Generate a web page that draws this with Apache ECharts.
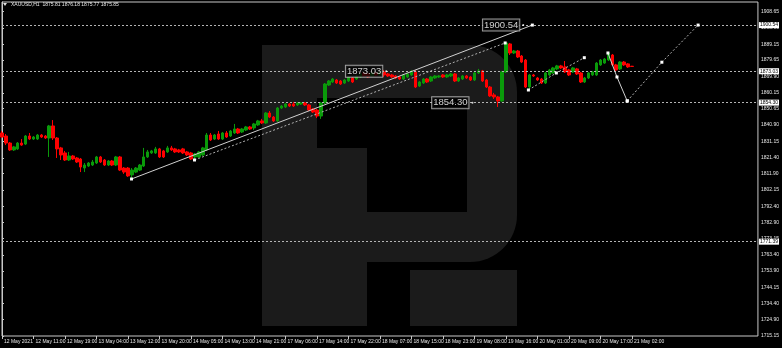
<!DOCTYPE html>
<html><head><meta charset="utf-8">
<script src="https://cdn.jsdelivr.net/npm/echarts@6/dist/echarts.min.js"></script>
<style>html,body{margin:0;padding:0;background:#000}#c{width:782px;height:348px}</style>
</head><body><div id="c"></div>
<script>
// ---- data (XAUUSD H1) ----
const timeLabels = ['12 May 2021','12 May 11:00','12 May 19:00','13 May 04:00','13 May 12:00','13 May 20:00','14 May 05:00','14 May 13:00','14 May 21:00','17 May 06:00','17 May 14:00','17 May 22:00','18 May 07:00','18 May 15:00','18 May 23:00','19 May 08:00','19 May 16:00','20 May 01:00','20 May 09:00','20 May 17:00','21 May 02:00'];
const labelEvery = 8;
const priceTicks = [1908.65,1898.90,1889.15,1879.65,1869.90,1860.15,1850.65,1840.90,1831.15,1821.40,1811.90,1802.15,1792.40,1782.90,1773.15,1763.40,1753.90,1744.15,1734.40,1724.90,1715.15];
const opens = [1836.2,1834.4,1830.2,1826.1,1826.7,1830.2,1829.6,1834.4,1832.6,1832.6,
1835.0,1834.4,1833.2,1840.4,1833.2,1827.3,1824.3,1820.1,1822.5,1821.3,
1820.7,1815.3,1816.5,1817.1,1818.3,1821.9,1820.1,1817.1,1819.5,1817.1,
1821.9,1815.3,1815.3,1811.2,1812.9,1814.1,1816.5,1821.9,1824.3,1824.3,
1826.7,1825.5,1824.9,1827.3,1826.7,1826.1,1826.7,1824.9,1824.3,1821.9,
1821.9,1823.1,1826.1,1835.0,1832.6,1835.6,1832.6,1836.2,1834.4,1836.2,
1838.6,1836.8,1838.0,1839.8,1839.2,1841.0,1843.4,1842.2,1848.1,1845.7,
1843.4,1851.1,1851.7,1853.5,1853.5,1852.9,1853.5,1854.1,1852.9,1850.5,
1849.9,1846.3,1854.1,1864.8,1866.6,1867.8,1867.2,1866.0,1867.2,1869.0,
1868.4,1869.6,1872.0,1871.4,1870.2,1872.0,1870.8,1872.6,1871.4,1870.8,
1870.2,1869.6,1868.4,1869.6,1870.8,1872.6,1864.2,1866.0,1868.4,1867.2,
1869.0,1869.6,1870.8,1869.6,1870.2,1871.4,1867.2,1868.4,1870.2,1869.6,
1867.8,1872.0,1873.2,1867.8,1863.6,1858.9,1857.7,1855.3,1872.6,1889.3,
1883.9,1885.1,1882.1,1879.7,1863.6,1870.8,1869.0,1868.4,1866.0,1870.8,
1872.0,1874.4,1876.2,1875.6,1873.8,1872.6,1874.4,1872.0,1866.6,1869.0,
1870.8,1870.8,1876.8,1877.9,1879.7,1882.7,1876.8,1874.4,1878.5,1877.4,
1876.0];
const closes = [1833.8,1830.2,1826.1,1827.9,1830.2,1829.0,1834.4,1832.6,1833.8,1835.0,
1833.8,1833.2,1840.4,1833.2,1826.7,1823.1,1820.1,1822.5,1820.7,1818.9,
1815.9,1817.1,1818.3,1818.9,1821.9,1818.9,1817.1,1819.5,1817.1,1821.9,
1814.1,1812.9,1810.6,1814.1,1815.3,1817.1,1821.9,1824.9,1825.5,1826.7,
1821.9,1821.9,1827.3,1826.1,1824.9,1824.9,1824.3,1823.1,1820.7,1823.7,
1824.9,1827.3,1835.0,1832.0,1835.0,1832.6,1836.2,1833.8,1837.4,1838.6,
1836.2,1838.6,1839.8,1838.6,1841.6,1843.4,1842.2,1848.1,1845.7,1843.4,
1851.1,1852.3,1853.5,1852.3,1852.3,1854.1,1854.1,1852.9,1849.9,1848.7,
1846.3,1854.1,1865.4,1867.2,1868.4,1866.0,1865.4,1867.8,1869.6,1866.6,
1870.2,1871.4,1870.2,1869.6,1872.0,1870.8,1873.2,1870.8,1870.2,1869.6,
1869.0,1868.4,1870.8,1871.4,1872.6,1863.6,1866.6,1868.4,1866.6,1869.6,
1870.2,1870.2,1869.6,1870.8,1871.4,1867.2,1869.0,1870.2,1869.0,1867.8,
1872.0,1873.2,1867.2,1863.6,1858.3,1857.7,1855.3,1872.6,1889.9,1883.9,
1885.1,1881.5,1878.5,1863.6,1870.8,1870.2,1867.8,1866.0,1872.0,1873.8,
1875.0,1876.2,1875.0,1872.6,1870.8,1875.0,1871.4,1866.6,1869.0,1872.0,
1872.6,1877.9,1879.7,1880.3,1883.9,1876.8,1873.8,1878.5,1876.8,1875.6,
1875.85];
const lows = [1833.2,1829.0,1825.5,1825.5,1826.1,1828.5,1829.0,1832.0,1832.0,1832.0,
1833.2,1832.6,1821.9,1832.0,1821.3,1820.1,1819.5,1819.5,1820.1,1818.3,
1812.9,1812.9,1815.9,1816.5,1817.7,1818.3,1816.5,1816.5,1816.5,1816.5,
1813.5,1811.8,1810.0,1808.8,1812.3,1813.5,1815.9,1821.3,1823.7,1823.7,
1821.3,1821.3,1824.3,1825.5,1824.3,1824.3,1823.7,1822.5,1820.1,1820.1,
1821.3,1822.5,1825.5,1831.4,1832.0,1832.0,1832.0,1833.2,1833.8,1835.6,
1835.6,1836.2,1837.4,1838.0,1838.0,1840.4,1841.6,1841.6,1845.1,1842.8,
1842.8,1850.5,1851.1,1851.7,1851.7,1852.3,1852.9,1852.3,1849.3,1848.1,
1845.1,1844.6,1853.5,1864.2,1866.0,1865.4,1864.8,1865.4,1866.6,1866.0,
1867.8,1869.0,1869.6,1869.0,1869.6,1870.2,1870.2,1869.6,1869.6,1869.0,
1868.4,1867.8,1867.8,1869.0,1870.2,1863.0,1863.6,1865.4,1866.0,1866.6,
1868.4,1869.0,1869.0,1869.0,1869.6,1866.6,1866.6,1867.8,1868.4,1867.2,
1867.2,1871.4,1866.6,1863.0,1857.7,1856.5,1851.7,1854.7,1872.0,1882.7,
1883.3,1880.9,1877.9,1863.0,1862.4,1869.6,1867.2,1865.4,1865.4,1870.2,
1871.4,1873.8,1874.4,1872.0,1870.2,1872.0,1870.8,1866.0,1866.0,1868.4,
1870.2,1870.2,1876.2,1877.4,1879.1,1876.2,1873.2,1873.8,1876.2,1875.0,
1875.77];
const highs = [1837.4,1835.6,1830.8,1828.5,1830.8,1832.6,1835.0,1836.2,1834.4,1835.6,
1835.6,1835.0,1841.0,1843.9,1833.8,1827.9,1825.5,1824.9,1823.1,1821.9,
1821.3,1818.3,1818.9,1820.1,1822.5,1822.5,1820.7,1820.1,1820.1,1822.5,
1822.5,1815.9,1815.9,1815.3,1815.9,1817.7,1827.3,1826.1,1826.1,1827.9,
1827.3,1826.1,1828.5,1828.5,1827.3,1826.7,1827.3,1825.5,1824.9,1824.3,
1825.5,1827.9,1836.2,1836.2,1835.6,1837.4,1836.8,1837.4,1838.0,1841.6,
1839.2,1839.2,1840.4,1840.4,1842.2,1844.0,1844.6,1848.7,1849.3,1846.3,
1851.7,1852.9,1854.1,1854.1,1854.7,1854.7,1854.7,1854.7,1853.5,1851.1,
1850.5,1854.7,1866.0,1867.8,1869.0,1868.4,1867.8,1868.4,1870.2,1869.6,
1870.8,1872.0,1872.6,1872.0,1872.6,1872.6,1873.8,1873.8,1872.0,1871.4,
1870.8,1870.2,1871.4,1872.0,1873.8,1873.8,1867.2,1869.0,1869.0,1870.2,
1870.8,1870.8,1871.4,1871.4,1872.0,1872.0,1869.6,1870.8,1870.8,1870.2,
1872.6,1874.4,1873.8,1868.4,1864.2,1860.1,1858.3,1873.2,1890.5,1889.9,
1885.7,1885.7,1882.7,1880.3,1871.4,1871.4,1869.6,1869.0,1872.6,1874.4,
1875.6,1876.8,1876.8,1879.1,1874.4,1875.6,1875.0,1872.6,1869.6,1872.6,
1873.2,1878.5,1880.3,1880.9,1884.5,1883.3,1877.4,1879.1,1879.1,1877.9,
1876.18];
const titleText = 'XAUUSD,H1  1875.81 1876.18 1875.77 1875.85';
const hLines = [1900.54, 1873.03, 1854.30, 1771.39];
const lastPrice = 1875.85;
// price notes: [bar position, price]
const priceNotes = [[132.4,1900.54],[97.6,1873.03],[119.5,1854.30]];
// trend lines: [bar position, price]
const channelSolid = [[32.9,1808.77],[134.7,1900.54]];
const channelDotted = [[48.9,1820.10],[127.8,1889.87]];
const riseDotted = [[133.7,1861.84],[140.8,1871.98],[147.9,1881.10]];
const dropSolid = [[153.9,1883.90],[156.2,1869.60],[158.8,1855.30]];
const projDotted = [[158.8,1855.30],[167.6,1878.40],[176.8,1900.54]];

const nCats = 193;
const yMin = 1715.15, yMax = 1914.3;
const cats = Array.from({length: nCats}, (_, i) => String(i));
const candles = opens.map((o, i) => [o, closes[i], lows[i], highs[i]]);
const isLabel = i => i % labelEvery === 0 && i / labelEvery < timeLabels.length;

const axisCol = '#c8c8c8', txtCol = '#e6e6e6', font = 'Liberation Sans';
const wm = '#1b1b1b';
const lineSeries = (data, type, col) => ({
  type: 'line', xAxisIndex: 1, yAxisIndex: 0, data, z: 5, silent: true,
  lineStyle: {color: col, width: 1, type},
  symbol: 'rect', symbolSize: 3, itemStyle: {color: '#ffffff'}
});

const chart = echarts.init(document.getElementById('c'), null, {renderer: 'canvas'});
chart.setOption({
  backgroundColor: '#000',
  animation: false,
  grid: {left: 2, right: 23, top: 2, bottom: 12, show: true, borderColor: axisCol, borderWidth: 1},
  xAxis: [{
    type: 'category', data: cats, boundaryGap: false,
    axisLine: {show: false},
    axisTick: {show: true, interval: i => isLabel(i), length: 3, lineStyle: {color: axisCol}},
    axisLabel: {interval: i => isLabel(i), formatter: (v, i) => timeLabels[i / labelEvery],
      align: 'left', fontSize: 5, color: txtCol, margin: 3, padding: [0, 0, 0, 2], fontFamily: font},
    splitLine: {show: false}
  }, {type: 'value', min: 0, max: nCats - 1, show: false}],
  yAxis: {
    type: 'value', position: 'right', min: yMin, max: yMax,
    axisLine: {show: true, lineStyle: {color: axisCol}},
    axisTick: {show: true, customValues: priceTicks, length: 2, lineStyle: {color: axisCol}},
    axisLabel: {customValues: priceTicks, formatter: v => v.toFixed(2), fontSize: 5, color: txtCol, margin: 3, fontFamily: font},
    splitLine: {show: false}
  },
  graphic: [
    {type: 'rect', z: 0, silent: true, shape: {x: 262, y: 45, width: 255, height: 217, r: [0, 47, 47, 0]}, style: {fill: wm}},
    {type: 'polygon', z: 0, silent: true, shape: {points: [[317, 98], [467, 98], [467, 212], [367, 212], [367, 148], [317, 148]]}, style: {fill: '#000'}},
    {type: 'rect', z: 0, silent: true, shape: {x: 262, y: 262, width: 105, height: 64}, style: {fill: wm}},
    {type: 'rect', z: 0, silent: true, shape: {x: 410, y: 270, width: 107, height: 56}, style: {fill: wm}},
    {type: 'polygon', z: 10, shape: {points: [[3, 3], [7, 3], [5, 6]]}, style: {fill: '#dddddd'}},
    {type: 'text', z: 10, left: 11, top: 2, style: {text: titleText, fill: txtCol, fontSize: 5, fontFamily: font}}
  ],
  series: [
    {
      type: 'candlestick', data: candles, barWidth: 3, z: 3,
      itemStyle: {color: '#0a9a0a', color0: '#ff0000', borderColor: '#0a9a0a', borderColor0: '#ff0000', borderWidth: 1},
      markLine: {
        silent: true, symbol: 'none', animation: false,
        lineStyle: {color: '#b4b4b4', type: [2, 2], width: 1},
        label: {position: 'end', distance: 1, formatter: p => p.value.toFixed(2), fontSize: 5, lineHeight: 6,
          color: '#000', backgroundColor: '#ffffff', padding: [0, 1, 0, 1], fontFamily: font},
        data: hLines.map(v => ({yAxis: v})).concat([{yAxis: lastPrice, lineStyle: {opacity: 0}}])
      }
    },
    lineSeries(channelSolid, 'solid', '#d0d0d0'),
    lineSeries(channelDotted, [2, 2], '#b0b0b0'),
    lineSeries(riseDotted, [2, 2], '#b0b0b0'),
    lineSeries(dropSolid, 'solid', '#d0d0d0'),
    lineSeries(projDotted, [2, 2], '#b0b0b0'),
    {
      type: 'scatter', xAxisIndex: 1, yAxisIndex: 0, data: priceNotes, z: 6, silent: true,
      symbol: 'circle', symbolSize: 2, itemStyle: {color: '#ffffff'},
      label: {show: true, position: 'left', distance: 3, formatter: p => p.value[1].toFixed(2),
        fontSize: 9.5, color: '#ffffff', backgroundColor: '#000', borderColor: '#c0c0c0', borderWidth: 1,
        padding: [1, 1, 0, 1], fontFamily: font}
    }
  ]
});
</script>
</body></html>
